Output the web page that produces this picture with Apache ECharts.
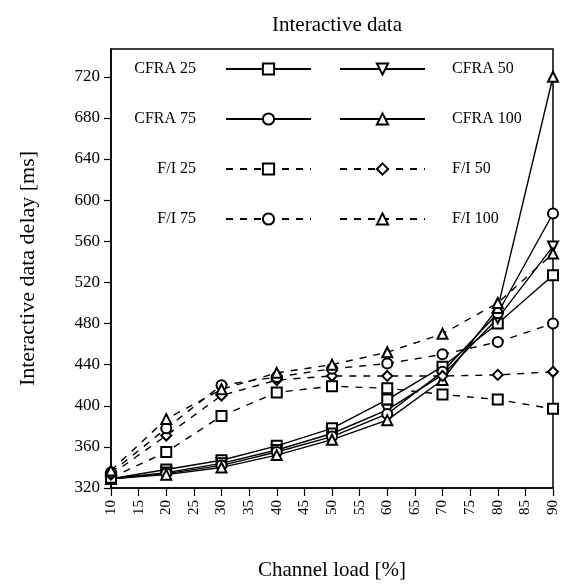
<!DOCTYPE html>
<html lang="en">

<head>
  <meta charset="UTF-8">
  <title>Interactive data</title>
  <style>
    html, body {
      margin: 0;
      padding: 0;
      background: #fff;
    }

    #main {
      width: 564px;
      height: 586px;
    }
  </style>
</head>

<body>
  <div id="main"></div>

  <script src="https://cdn.jsdelivr.net/npm/echarts@6/dist/echarts.min.js"></script>
  <script type="text/javascript">
    // channel load [%]
    var load = [10, 20, 30, 40, 50, 60, 70, 80, 90];

    // delay [ms]
    var cfra25 = [329, 338, 347, 361, 378, 406, 438, 480, 527];
    var cfra50 = [329, 335, 344, 357, 373, 396, 430, 485, 555];
    var cfra75 = [329, 334, 342, 355, 370, 392, 433, 490, 587];
    var cfra100 = [329, 333, 340, 352, 367, 386, 425, 495, 720];
    var fi25 = [330, 355, 390, 413, 419, 417, 411, 406, 397];
    var fi50 = [333, 371, 410, 425, 429, 429, 429, 430, 433];
    var fi75 = [335, 378, 420, 428, 436, 441, 450, 462, 480];
    var fi100 = [337, 387, 416, 432, 440, 452, 470, 500, 548];

    var serif = 'Liberation Serif';
    var myChart = echarts.init(document.getElementById('main'));

    function pairs(ys) {
      return load.map(function(x, i) { return [x, ys[i]]; });
    }

    function line(name, ys, symbol, dashed, rotate) {
      return {
        name: name,
        type: 'line',
        data: pairs(ys),
        symbol: symbol,
        symbolSize: 10,
        symbolRotate: rotate || 0,
        lineStyle: { color: '#000', width: 1.4, type: dashed ? [7, 7] : 'solid' },
        itemStyle: { color: '#000', borderColor: '#000', borderWidth: 1.2 },
        emphasis: { disabled: true },
        animation: false
      };
    }

    var option = {
      backgroundColor: '#fff',
      title: {
        text: 'Interactive data',
        left: 332,
        textAlign: 'center',
        top: 10,
        textStyle: { fontFamily: serif, fontWeight: 'normal', fontSize: 21, color: '#000' }
      },
      legend: [{
        data: ['CFRA 25', 'CFRA 75', 'F/I 25', 'F/I 75'],
        orient: 'vertical',
        align: 'right',
        right: 247,
        top: 56,
        itemWidth: 85,
        itemHeight: 14,
        itemGap: 34,
        textStyle: { fontFamily: serif, fontSize: 16, color: '#000', padding: [0, 25, 0, 0] }
      }, {
        data: ['CFRA 50', 'CFRA 100', 'F/I 50', 'F/I 100'],
        orient: 'vertical',
        align: 'left',
        left: 334,
        top: 56,
        itemWidth: 85,
        itemHeight: 14,
        itemGap: 34,
        textStyle: { fontFamily: serif, fontSize: 16, color: '#000', padding: [0, 0, 0, 22] }
      }],
      grid: {
        left: 111,
        right: 11,
        top: 49,
        bottom: 98,
        show: true,
        borderColor: '#000',
        borderWidth: 1.5
      },
      xAxis: {
        type: 'value',
        min: 10,
        max: 90,
        interval: 5,
        name: 'Channel load [%]',
        nameLocation: 'middle',
        nameGap: 72,
        nameTextStyle: { fontFamily: serif, fontSize: 21, color: '#000' },
        axisLine: { lineStyle: { color: '#000', width: 1.5 } },
        axisTick: { length: 8, lineStyle: { color: '#000', width: 1.2 } },
        axisLabel: { rotate: 90, margin: 12, fontFamily: serif, fontSize: 15, color: '#000' },
        splitLine: { show: false }
      },
      yAxis: {
        type: 'value',
        min: 320,
        max: 747,
        interval: 40,
        name: 'Interactive data delay [ms]',
        nameLocation: 'middle',
        nameGap: 72,
        nameTextStyle: { fontFamily: serif, fontSize: 22, color: '#000' },
        axisLine: { show: true, lineStyle: { color: '#000', width: 1.5 } },
        axisTick: { show: true, length: 7, lineStyle: { color: '#000', width: 1.2 } },
        axisLabel: { margin: 11, fontFamily: serif, fontSize: 17, color: '#000', showMaxLabel: false },
        splitLine: { show: false }
      },
      series: [
        line('CFRA 25', cfra25, 'emptyRect', false),
        line('CFRA 50', cfra50, 'emptyTriangle', false, 180),
        line('CFRA 75', cfra75, 'emptyCircle', false),
        line('CFRA 100', cfra100, 'emptyTriangle', false),
        line('F/I 25', fi25, 'emptyRect', true),
        line('F/I 50', fi50, 'emptyDiamond', true),
        line('F/I 75', fi75, 'emptyCircle', true),
        line('F/I 100', fi100, 'emptyTriangle', true)
      ]
    };

    myChart.setOption(option);
  </script>
</body>

</html>
